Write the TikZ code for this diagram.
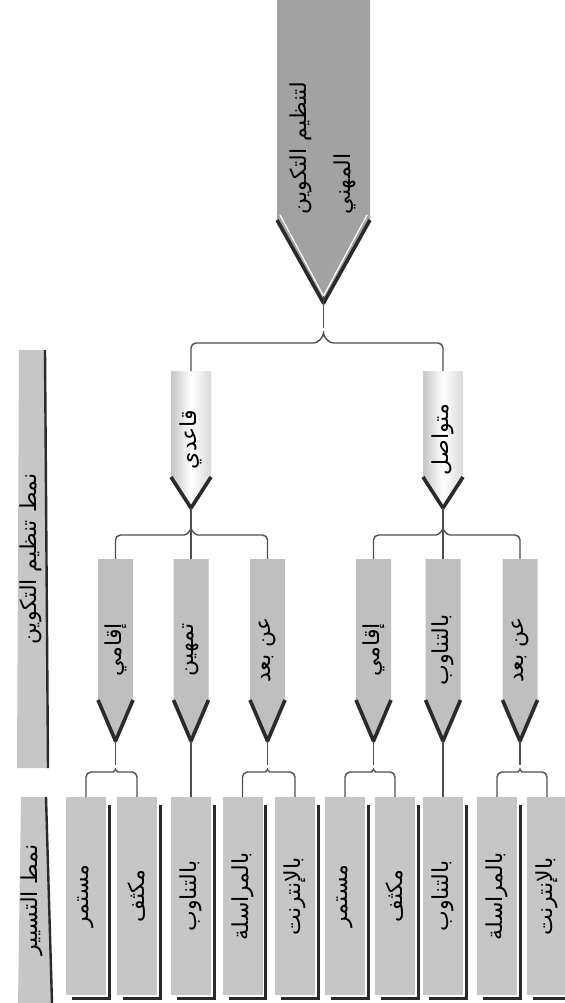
\documentclass[tikz,border=0pt]{standalone}
\usepackage{fontspec}
\newfontfamily\arabicfont[Script=Arabic]{DejaVu Sans}
\TeXXeTstate=1
\usetikzlibrary{positioning,calc,backgrounds}

\definecolor{rootgray}{HTML}{A2A2A2}
\definecolor{boxgray}{HTML}{BFBFBF}
\definecolor{leafgray}{HTML}{C6C6C6}
\definecolor{edgegray}{HTML}{2A2A2A}
\definecolor{linegray}{HTML}{4E4E4E}

\newcommand{\vtxt}[1]{\rotatebox{90}{\arabicfont\beginR #1\endR}}

\begin{document}
\begin{tikzpicture}[x=0.5pt, y=-0.5pt,
    every node/.style={inner sep=0pt, outer sep=0pt, font=\fontsize{11}{13}\selectfont},
    rootbox/.style={minimum width=46.5pt, minimum height=148pt},
    midbox/.style={minimum width=20pt, minimum height=68.5pt},
    subbox/.style={minimum width=17.5pt, minimum height=91pt},
    leafbox/.style={fill=leafgray, minimum width=20pt, minimum height=99pt},
    sidebox/.style={minimum width=14pt, minimum height=#1},
    conn/.style={draw=linegray, line width=0.7pt},
    vedge/.style={draw=edgegray, line width=1.8pt, line join=round},
    leafshadow/.style={draw=edgegray, line width=1.5pt}]

    \useasboundingbox (0,0) rectangle (564,1003);

    % root
    \node[rootbox] (root) at (323.5,148) {\rotatebox{90}{\arabicfont\begin{tabular}{@{}l@{}}\beginR لتنظيم التكوين\endR\\[9pt]\beginR المهني\endR\end{tabular}}};

    % second level
    \node[midbox] (qaidi) at (191,439.5) {\vtxt{قاعدي}};
    \node[midbox] (muta) at (443,439.5) {\vtxt{متواصل}};

    % third level
    \node[subbox] (a1) at (115.5,650) {\vtxt{إقامي}};
    \node[subbox] (a2) at (191,650) {\vtxt{تمهين}};
    \node[subbox] (a3) at (267.5,650) {\vtxt{عن بعد}};
    \node[subbox] (b1) at (373.5,650) {\vtxt{إقامي}};
    \node[subbox] (b2) at (443,650) {\vtxt{بالتناوب}};
    \node[subbox] (b3) at (520,650) {\vtxt{عن بعد}};

    % leaves
    \node[leafbox] (a11) at (86,896) {\vtxt{مستمر}};
    \node[leafbox] (a12) at (137,896) {\vtxt{مكثف}};
    \node[leafbox] (a21) at (191,896) {\vtxt{بالتناوب}};
    \node[leafbox] (a31) at (242.5,896) {\vtxt{بالمراسلة}};
    \node[leafbox] (a32) at (295,896) {\vtxt{بالإنترنت}};
    \node[leafbox] (b11) at (345,896) {\vtxt{مستمر}};
    \node[leafbox] (b12) at (395,896) {\vtxt{مكثف}};
    \node[leafbox] (b21) at (443,896) {\vtxt{بالتناوب}};
    \node[leafbox] (b31) at (497,896) {\vtxt{بالمراسلة}};
    \node[leafbox] (b32) at (547,896) {\vtxt{بالإنترنت}};

    % side labels
    \node[sidebox=209pt] (lab1) at (31,559) {\vtxt{نمط تنظيم التكوين}};
    \node[sidebox=103pt] (lab2) at (32,900) {\vtxt{نمط التسيير}};

    \begin{scope}[on background layer]
        \fill[rootgray] (root.north west) -- (root.north east) -- ($(root.south east)+(0,-76)$) -- ($(root.south)+(0,7)$) -- ($(root.south west)+(0,-76)$) -- cycle;
        \foreach \n in {qaidi,muta}
            \shade[left color=gray!45, right color=gray!30, middle color=white] (\n.north west) -- (\n.north east) -- ($(\n.south east)+(0,-31)$) -- (\n.south) -- ($(\n.south west)+(0,-31)$) -- cycle;
        \foreach \n in {a1,a2,a3,b1,b2,b3}
            \fill[boxgray] (\n.north west) -- (\n.north east) -- ($(\n.south east)+(0,-41)$) -- (\n.south) -- ($(\n.south west)+(0,-41)$) -- cycle;
        \fill[leafgray] ($(lab1.north west)+(2,0)$) -- (lab1.north east) -- ($(lab1.south east)+(3,0)$) -- (lab1.south west) -- cycle;
        \fill[leafgray] ($(lab2.north west)+(3,0)$) -- (lab2.north east) -- ($(lab2.south east)+(6,0)$) -- (lab2.south west) -- cycle;
    \end{scope}

    % pointed ends
    \draw[vedge] ($(root.south west)+(0,-76)$) -- ($(root.south)+(0,7)$) -- ($(root.south east)+(0,-76)$);
    \draw[white, line width=0.6pt] ($(root.south west)+(3,-81)$) -- (root.south) -- ($(root.south east)+(-3,-81)$);
    \foreach \n in {qaidi,muta}
        \draw[vedge] ($(\n.south west)+(0,-31)$) -- (\n.south) -- ($(\n.south east)+(0,-31)$);
    \foreach \n in {a1,a2,a3,b1,b2,b3}
        \draw[vedge] ($(\n.south west)+(0,-41)$) -- (\n.south) -- ($(\n.south east)+(0,-41)$);

    % side label edges
    \draw[edgegray, line width=1.2pt] (lab1.north east) -- ($(lab1.south east)+(3,0)$);
    \draw[edgegray, line width=1.2pt] (lab2.north east) -- ($(lab2.south east)+(6,0)$);

    % leaf shadows
    \foreach \n in {a11,a12,a21,a31,a32,b11,b12,b21,b31,b32}
        \draw[leafshadow] ($(\n.north east)+(3,8)$) -- ($(\n.south east)+(3,3)$) -- ($(\n.south west)+(6,3)$);

    % braces
    \foreach \p/\l/\r/\h/\w in {root/qaidi/muta/47/15, qaidi/a1/a3/27/12, muta/b1/b3/27/12,
                                a1/a11/a12/31/7, a3/a31/a32/31/7, b1/b11/b12/31/7, b3/b31/b32/31/7}{
        \draw[conn] (\p.south) -- ($(\p.south)+(0,\h-\w)$);
        \draw[conn, rounded corners=2.5pt] (\l.north) |- ($(\p.south)+(-\w,\h)$)
            .. controls +(0.65*\w,0) and +(0,0.6*\w) .. ($(\p.south)+(0,\h-\w)$)
            .. controls +(0,0.6*\w) and +(-0.65*\w,0) .. ($(\p.south)+(\w,\h)$) -| (\r.north);
    }
    \draw[conn] (qaidi.south) -- (a2.north);
    \draw[conn] (muta.south) -- (b2.north);
    \draw[conn] (a2.south) -- (a21.north);
    \draw[conn] (b2.south) -- (b21.north);
\end{tikzpicture}
\end{document}
